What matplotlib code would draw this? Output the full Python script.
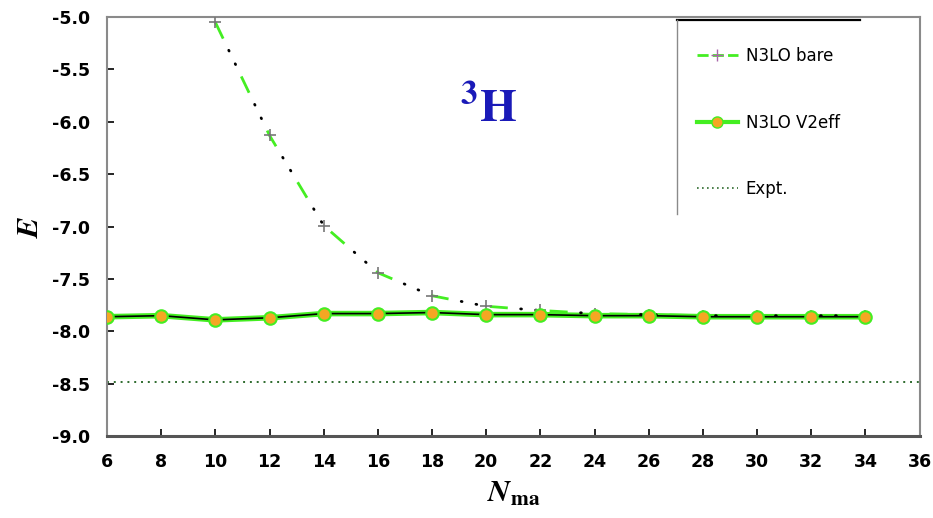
import matplotlib
matplotlib.use('Agg')
import matplotlib.pyplot as plt
from matplotlib.lines import Line2D

plt.rcParams['mathtext.fontset'] = 'stix'

# Datos
n_bare = [10, 12, 14, 16, 18, 20, 22, 24, 26, 28, 30, 32, 34]
e_bare = [-5.05, -6.13, -6.99, -7.44, -7.66, -7.76, -7.80, -7.83, -7.84, -7.85, -7.85, -7.85, -7.85]

n_eff = [6, 8, 10, 12, 14, 16, 18, 20, 22, 24, 26, 28, 30, 32, 34]
e_eff = [-7.86, -7.85, -7.89, -7.87, -7.83, -7.83, -7.82, -7.84, -7.84, -7.85, -7.85, -7.86, -7.86, -7.86, -7.86]

e_expt = -8.48

xticks = list(range(6, 37, 2))
yticks = [-9.0, -8.5, -8.0, -7.5, -7.0, -6.5, -6.0, -5.5, -5.0]

fig = plt.figure(figsize=(9.33, 5.18), dpi=100)
ax = fig.add_axes([0.1147, 0.158, 0.871, 0.809])

# N3LO bare: trazos verdes con dos puntos negros en cada hueco
# (mismo grosor en ambas líneas para que los patrones coincidan)
ax.plot(n_bare, e_bare, color='#44ee22', lw=2.0, ls=(0, (6.5, 15.1)), zorder=3)
ax.plot(n_bare, e_bare, color='black', lw=2.0, ls=(10.45, (0.3, 5.1, 0.3, 15.9)),
        dash_capstyle='round', zorder=3)
ax.plot(n_bare, e_bare, ls='none', marker='+', ms=8, mew=1.2, color='#777777', zorder=4)

# N3LO V2eff
ax.plot(n_eff, e_eff, color='#44ee22', lw=4, zorder=2)
ax.plot(n_eff, e_eff, color='black', lw=1.2, marker='o', ms=9,
        mfc='#f5a623', mec='#44ee22', mew=1.5, zorder=5)

# Expt.
ax.axhline(e_expt, color='#2e6b2e', lw=1.4, ls=(0, (1, 2.5)), zorder=1)

ax.set_xlim(6, 36)
ax.set_ylim(-9.0, -5.0)
ax.set_xticks(xticks)
ax.set_yticks(yticks)
ax.set_yticklabels(['%.1f' % v for v in yticks])
ax.tick_params(direction='in', length=5, width=1.2, labelsize=12.5, pad=12)
for lab in ax.get_xticklabels() + ax.get_yticklabels():
    lab.set_fontweight('bold')
ax.tick_params(axis='x', pad=12)

for side in ['left', 'top', 'right']:
    ax.spines[side].set_color('#8a8a8a')
    ax.spines[side].set_linewidth(1.5)
ax.spines['bottom'].set_color('#555555')
ax.spines['bottom'].set_linewidth(2.2)

ax.set_xlabel(r'$\boldsymbol{N}_{\mathbf{ma}}$', fontsize=22, labelpad=6)
ax.set_ylabel(r'$\boldsymbol{E}$', fontsize=22, labelpad=6)

ax.text(0.469, 0.78, r'$^{\mathbf{3}}\mathbf{H}$', transform=ax.transAxes,
        fontsize=34, color='#1a1ab8', ha='center', va='center')

# Leyenda
handles = [
    Line2D([], [], color='#44ee22', lw=2, marker='+', mec='#aa66aa', ms=8, ls=(0, (4, 1.5))),
    Line2D([], [], color='#44ee22', lw=3, marker='o', mfc='#f5a623', mec='#44ee22', ms=8),
    Line2D([], [], color='#2e6b2e', lw=1.2, ls=(0, (1, 2))),
]
labels = ['N3LO bare', 'N3LO V2eff', 'Expt.']
leg = ax.legend(handles, labels, loc='upper left', bbox_to_anchor=(0.707, 0.964),
                frameon=False, fontsize=12, labelspacing=2.9, handlelength=2.5,
                handletextpad=0.45, borderpad=0.4)

# Borde parcial de la leyenda
ax.plot([0.701, 0.927], [0.993, 0.993], transform=ax.transAxes, color='black', lw=1.6, clip_on=False)
ax.plot([0.701, 0.701], [0.993, 0.53], transform=ax.transAxes, color='#8a8a8a', lw=1.0, clip_on=False)

fig.savefig('out.png', dpi=100)
